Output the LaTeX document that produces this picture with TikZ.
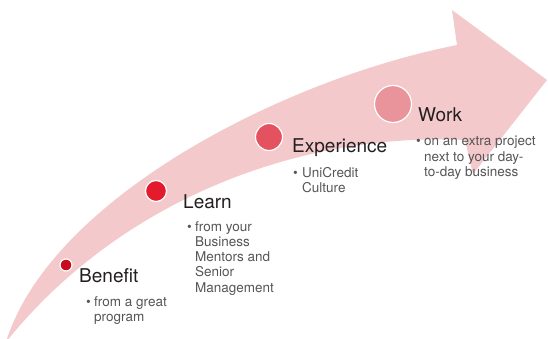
\documentclass[tikz,border=0pt]{standalone}
\usepackage{fontspec}
\setmainfont{TeX Gyre Heros}
\definecolor{arrowpink}{RGB}{243,201,204}
\definecolor{titlecol}{RGB}{35,31,32}
\definecolor{bulcol}{RGB}{85,85,85}
\definecolor{c1}{RGB}{200,10,30}
\definecolor{c2}{RGB}{227,27,45}
\definecolor{c3}{RGB}{229,82,95}
\definecolor{c4}{RGB}{233,148,155}
\begin{document}
\begin{tikzpicture}[x=1pt,y=-1pt,
  title/.style={anchor=base west, inner sep=0pt, text=titlecol, font=\fontsize{19}{22}\selectfont},
  bul/.style={anchor=base west, inner sep=0pt, text=bulcol, font=\fontsize{13.5}{15.3}\selectfont},
  dot/.style={circle, draw=white, line width=1.2pt, inner sep=0pt}]
\useasboundingbox (0,0) rectangle (548,339);
% arrow
\fill[arrowpink] (6,342) .. controls (50,200) and (280,80) .. (457,45)
  -- (452,10) -- (547,80) -- (473,174) -- (465,140)
  .. controls (300,132) and (120,200) .. (6,342) -- cycle;
% circles
\node[dot, fill=c1, minimum size=12pt] (d1) at (66,265) {};
\node[dot, fill=c2, minimum size=21pt] (d2) at (156,191) {};
\node[dot, fill=c3, minimum size=27pt] (d3) at (269,137) {};
\node[dot, fill=c4, minimum size=37pt] (d4) at (393,104) {};
% titles
\node[title] (t1) at (79,282) {Benefit};
\node[title] (t2) at (183,208) {Learn};
\node[title] (t3) at (292,153) {Experience};
\node[title] (t4) at (418,122) {Work};
% bullets
\node[bul] (k1) at (86,306) {\textbullet};
\node[bul] (l1) at (94,306) {\parbox[t]{100pt}{from a great\\program}};
\node[bul] (k2) at (187,231) {\textbullet};
\node[bul] (l2) at (195,231) {\parbox[t]{100pt}{from your\\Business\\Mentors and\\Senior\\Management}};
\node[bul] (k3) at (293,177) {\textbullet};
\node[bul] (l3) at (302,177) {\parbox[t]{100pt}{UniCredit\\Culture}};
\node[bul] (k4) at (416,146) {\textbullet};
\node[bul] (l4) at (424,146) {\parbox[t]{130pt}{on an extra project\\next to your day-\\to-day business}};
\end{tikzpicture}
\end{document}
